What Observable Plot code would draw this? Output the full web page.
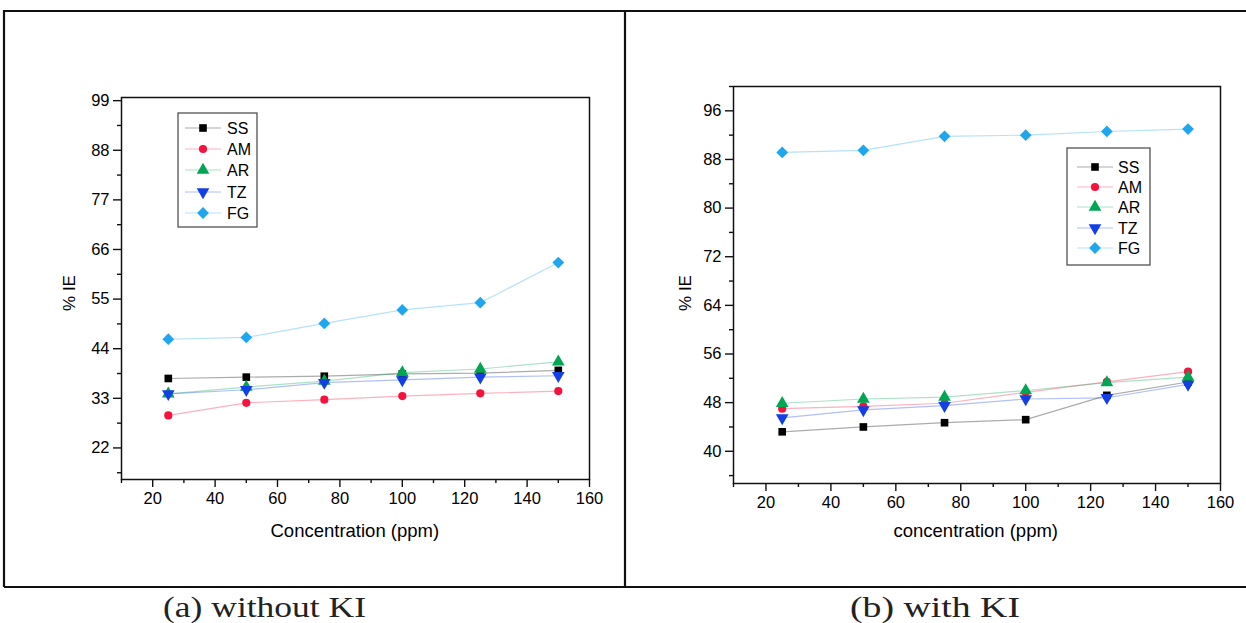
<!DOCTYPE html>
<html>
<head>
<meta charset="utf-8">
<script src="https://cdn.jsdelivr.net/npm/d3@7"></script>
<script src="https://cdn.jsdelivr.net/npm/@observablehq/plot@0.6"></script>
<style>
  html, body { margin: 0; padding: 0; background: #fff; }
  #wrap { position: relative; width: 1246px; height: 623px; overflow: hidden; background: #fff; }
  .panel { position: absolute; top: 0; }
  .panel svg text { font-size: 16.5px !important; font-family: "Liberation Sans", Arial, sans-serif !important; fill: #000; }
  .overlay { position: absolute; left: 0; top: 0; pointer-events: none; }
  .atitle { position: absolute; font-family: "Liberation Sans", Arial, sans-serif; font-size: 18.5px; color: #000; white-space: nowrap; }
</style>
</head>
<body>
<div id="wrap"></div>
<script>
// ---------- data ----------
const concentrations = [25, 50, 75, 100, 125, 150];
const seriesNames = ["SS", "AM", "AR", "TZ", "FG"];
const seriesColors = ["#000000", "#f5123c", "#00a651", "#1240e6", "#1ea7ee"];

// (a) without KI
const ssWithout = [37.4, 37.7, 37.9, 38.4, 38.6, 39.2];
const amWithout = [29.2, 32.0, 32.7, 33.5, 34.1, 34.6];
const arWithout = [34.0, 35.5, 36.8, 38.7, 39.5, 41.1];
const tzWithout = [34.0, 34.9, 36.5, 37.1, 37.7, 38.0];
const fgWithout = [46.1, 46.5, 49.6, 52.6, 54.2, 63.1];

// (b) with KI
const ssWith = [43.2, 44.0, 44.7, 45.2, 49.2, 51.4];
const amWith = [47.0, 47.4, 47.9, 49.7, 51.4, 53.1];
const arWith = [47.9, 48.6, 48.9, 50.0, 51.3, 52.2];
const tzWith = [45.5, 46.8, 47.5, 48.6, 48.8, 51.0];
const fgWith = [89.15, 89.5, 91.8, 92.0, 92.6, 93.0];

// tick labels
const xMajorTicks = [20, 40, 60, 80, 100, 120, 140, 160];
const xMinorTicks = [10, 30, 50, 70, 90, 110, 130, 150];
const yMajorTicksA = [22, 33, 44, 55, 66, 77, 88, 99];
const yMinorTicksA = [16.5, 27.5, 38.5, 49.5, 60.5, 71.5, 82.5, 93.5];
const yMajorTicksB = [40, 48, 56, 64, 72, 80, 88, 96];
const yMinorTicksB = [36, 44, 52, 60, 68, 76, 84, 92, 100];

const xTitleA = "Concentration (ppm)";
const xTitleB = "concentration (ppm)";
const yTitle = "% IE";
const captionA = "(a) without KI";
const captionB = "(b) with KI";

// ---------- helpers ----------
const triangleDown = {
  draw(context, size) {
    const y = -Math.sqrt(size / (Math.sqrt(3) * 3));
    context.moveTo(0, -y * 2);
    context.lineTo(-Math.sqrt(3) * y, y);
    context.lineTo(Math.sqrt(3) * y, y);
    context.closePath();
  }
};
const symbols = ["square", "circle", "triangle", triangleDown, "diamond2"];
const radii = [4.3, 4.1, 4.7, 4.7, 5.3];

function tidy(arrays) {
  const rows = [];
  arrays.forEach((vals, si) => {
    vals.forEach((v, i) => rows.push({series: seriesNames[si], si, c: concentrations[i], v}));
  });
  return rows;
}

function panel(rows, opts) {
  const marks = [];
  seriesNames.forEach((name, si) => {
    const d = rows.filter(r => r.si === si);
    marks.push(Plot.line(d, {x: "c", y: "v", stroke: seriesColors[si], strokeOpacity: 0.33, strokeWidth: 1.2}));
  });
  seriesNames.forEach((name, si) => {
    const d = rows.filter(r => r.si === si);
    marks.push(Plot.dot(d, {x: "c", y: "v", fill: seriesColors[si], stroke: "none", symbol: symbols[si], r: radii[si]}));
  });
  marks.push(Plot.frame({stroke: "#111", strokeWidth: 1.5}));
  marks.push(Plot.axisX(xMajorTicks, {anchor: "bottom", tickSize: 8, tickPadding: 5, fontSize: 16.5, label: null, stroke: "#111", strokeWidth: 1.4, fill: "#000"}));
  marks.push(Plot.axisX(xMinorTicks, {anchor: "bottom", tickSize: 4, text: null, label: null, stroke: "#111", strokeWidth: 1.4}));
  marks.push(Plot.axisY(opts.yMajor, {anchor: "left", tickSize: 8, tickPadding: 4, fontSize: 16.5, label: null, stroke: "#111", strokeWidth: 1.4, fill: "#000"}));
  marks.push(Plot.axisY(opts.yMinor, {anchor: "left", tickSize: 4, text: null, label: null, stroke: "#111", strokeWidth: 1.4}));
  return Plot.plot({
    width: opts.width,
    height: opts.height,
    marginLeft: opts.ml,
    marginRight: opts.mr,
    marginTop: opts.mt,
    marginBottom: opts.mb,
    style: {fontFamily: "'Liberation Sans', Arial, sans-serif", fontSize: "16.5px", color: "#000", background: "transparent"},
    x: {domain: [10, 160]},
    y: {domain: opts.yDomain},
    marks
  });
}

const wrap = document.getElementById("wrap");

const plotA = panel(tidy([ssWithout, amWithout, arWithout, tzWithout, fgWithout]), {
  width: 625, height: 586, ml: 121, mr: 36, mt: 97, mb: 107,
  yDomain: [15, 99.7], yMajor: yMajorTicksA, yMinor: yMinorTicksA
});
const divA = document.createElement("div");
divA.className = "panel"; divA.style.left = "0px";
divA.appendChild(plotA);
wrap.appendChild(divA);

const plotB = panel(tidy([ssWith, amWith, arWith, tzWith, fgWith]), {
  width: 621, height: 586, ml: 108, mr: 26, mt: 86, mb: 103,
  yDomain: [34.7, 100], yMajor: yMajorTicksB, yMinor: yMinorTicksB
});
const divB = document.createElement("div");
divB.className = "panel"; divB.style.left = "625px";
divB.appendChild(plotB);
wrap.appendChild(divB);

// ---------- axis titles ----------
function addTitle(text, cx, cy, rotate) {
  const el = document.createElement("div");
  el.className = "atitle";
  el.textContent = text;
  if (rotate) el.style.fontSize = "17px";
  wrap.appendChild(el);
  const w = el.offsetWidth, h = el.offsetHeight;
  el.style.left = (cx - w / 2) + "px";
  el.style.top = (cy - h / 2) + "px";
  if (rotate) el.style.transform = "rotate(-90deg)";
}
addTitle(xTitleA, 355, 531, false);
addTitle(xTitleB, 976, 531, false);
addTitle(yTitle, 70, 293, true);
addTitle(yTitle, 686, 293, true);

// ---------- overlay: frame, legends, captions ----------
const svg = d3.select(wrap).append("svg")
  .attr("class", "overlay").attr("width", 1246).attr("height", 623);

// outer figure borders
svg.append("path")
  .attr("d", "M4,587 L4,11 L1246,11 M4,587 L1246,587 M625,11 L625,587")
  .attr("fill", "none").attr("stroke", "#111").attr("stroke-width", 2.2);

function legend(x0, y0, w, h, rowY, symX, textX) {
  const g = svg.append("g");
  g.append("rect").attr("x", x0).attr("y", y0).attr("width", w).attr("height", h)
    .attr("fill", "#fff").attr("stroke", "#444").attr("stroke-width", 1.2);
  seriesNames.forEach((name, si) => {
    const y = rowY[si];
    g.append("line").attr("x1", symX - 18).attr("x2", symX + 18).attr("y1", y).attr("y2", y)
      .attr("stroke", seriesColors[si]).attr("stroke-opacity", 0.33).attr("stroke-width", 1.2);
    const s = symbols[si];
    const type = s === "square" ? d3.symbolSquare : s === "circle" ? d3.symbolCircle :
      s === "triangle" ? d3.symbolTriangle : s === "diamond2" ? d3.symbolDiamond2 : s;
    g.append("path").attr("transform", `translate(${symX},${y})`)
      .attr("d", d3.symbol(type, radii[si] * radii[si] * Math.PI)())
      .attr("fill", seriesColors[si]);
    g.append("text").attr("x", textX).attr("y", y).attr("dy", "0.36em")
      .attr("font-family", "'Liberation Sans', Arial, sans-serif").attr("font-size", 16)
      .attr("fill", "#000").text(name);
  });
}
legend(178, 113, 79, 114, [128, 149, 170, 192, 213], 203, 227);
legend(1067, 148, 83, 117, [167, 187, 207, 228, 248], 1095, 1118);

function caption(text, x, len) {
  svg.append("text").attr("x", x).attr("y", 617)
    .attr("font-family", "'Liberation Serif', 'Times New Roman', serif").attr("font-size", 29)
    .attr("textLength", len).attr("lengthAdjust", "spacingAndGlyphs")
    .attr("fill", "#222").text(text);
}
caption(captionA, 163, 203);
caption(captionB, 850, 170);
</script>
</body>
</html>
